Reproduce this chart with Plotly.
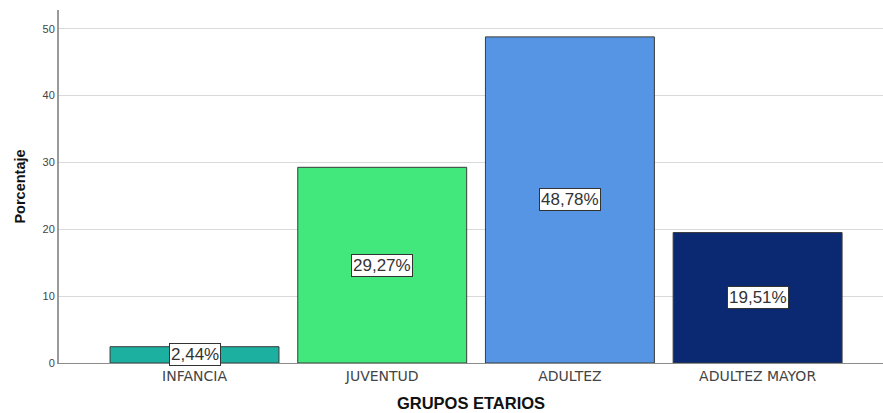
import plotly.graph_objects as go

# Distribución porcentual por grupo etario
grupos = ["INFANCIA", "JUVENTUD", "ADULTEZ", "ADULTEZ MAYOR"]
porcentajes = [2.44, 29.27, 48.78, 19.51]
colores = ["#1BB09F", "#42E87C", "#5595E4", "#0B2872"]
y_ticks = [0, 10, 20, 30, 40, 50]

fig = go.Figure()
fig.add_trace(go.Bar(
    x=grupos,
    y=porcentajes,
    width=0.9,
    marker=dict(color=colores, line=dict(color="#3a3a3a", width=1)),
    hoverinfo="x+y",
))

# Etiquetas con el porcentaje en el centro de cada barra
for g, v in zip(grupos, porcentajes):
    fig.add_annotation(
        x=g, y=v / 2,
        text=f"{v:.2f}%".replace(".", ","),
        showarrow=False,
        font=dict(family="Liberation Sans, Arial", size=17, color="#333333"),
        bgcolor="white",
        bordercolor="#333333",
        borderwidth=1,
        borderpad=1,
    )

fig.update_layout(
    width=883, height=413,
    margin=dict(l=59, r=0, t=10, b=50),
    paper_bgcolor="white",
    plot_bgcolor="white",
    showlegend=False,
    font=dict(family="Liberation Sans, Arial", color="#333333"),
    bargap=0.1,
)

fig.update_xaxes(
    range=[-0.722, 3.668],
    showline=True, linecolor="#8c8c8c", linewidth=1,
    showgrid=False,
    tickfont=dict(family="DejaVu Sans", size=14, color="#444444"),
    ticks="",
    title=dict(text="<b>GRUPOS ETARIOS</b>", font=dict(size=16.5, color="#111111"), standoff=14),
)
fig.update_yaxes(
    range=[0, 52.8],
    tickvals=y_ticks,
    showline=True, linecolor="#9a9a9a", linewidth=2,
    showgrid=True, gridcolor="#d9d9d9", gridwidth=1,
    zeroline=False,
    tickfont=dict(size=11, color="#444444"),
    ticks="",
    title=dict(text="<b>Porcentaje</b>", font=dict(size=14.5, color="#111111"), standoff=13),
)

fig.write_html("out.html")
